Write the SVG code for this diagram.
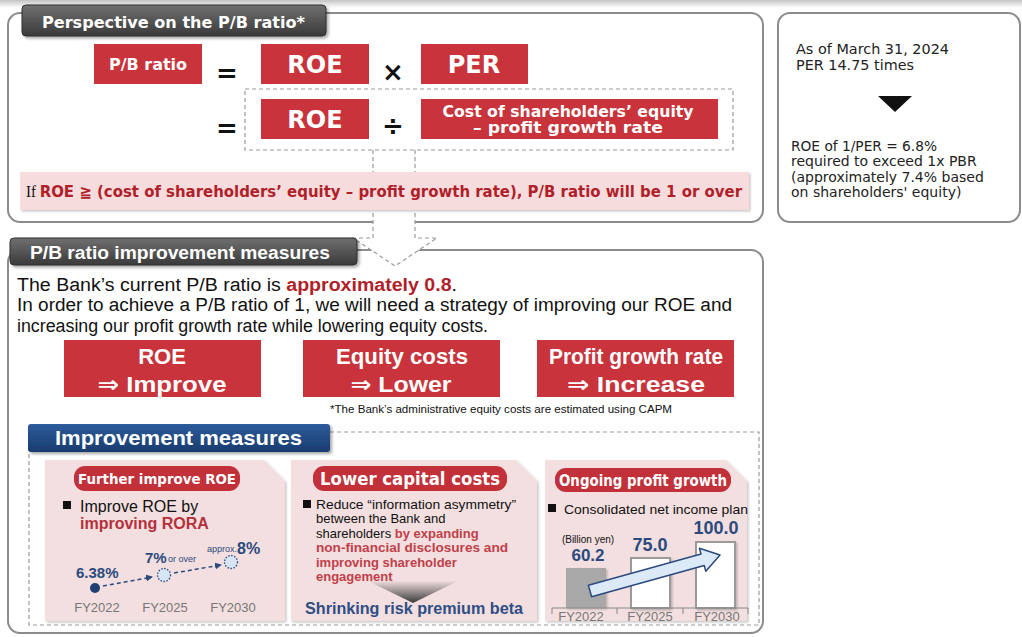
<svg xmlns="http://www.w3.org/2000/svg" width="1022" height="637" viewBox="0 0 1022 637">
<defs>
<linearGradient id="gTop" x1="0" y1="0" x2="0" y2="1"><stop offset="0" stop-color="#c4c4c4"/><stop offset="1" stop-color="#ffffff"/></linearGradient>
<linearGradient id="gTab" x1="0" y1="0" x2="0" y2="1"><stop offset="0" stop-color="#707070"/><stop offset="1" stop-color="#3a3a3a"/></linearGradient>
<linearGradient id="gBlue" x1="0" y1="0" x2="0" y2="1"><stop offset="0" stop-color="#2d5c9c"/><stop offset="1" stop-color="#183c6e"/></linearGradient>
<linearGradient id="gTri" x1="0" y1="0" x2="0" y2="1"><stop offset="0" stop-color="#efdcdc"/><stop offset="1" stop-color="#3a3a3a"/></linearGradient>
<filter id="sh" x="-5%" y="-20%" width="115%" height="150%"><feDropShadow dx="2" dy="2" stdDeviation="1.5" flood-color="#000" flood-opacity="0.35"/></filter>
<filter id="shl" x="-5%" y="-20%" width="115%" height="150%"><feDropShadow dx="1.5" dy="1.5" stdDeviation="1.2" flood-color="#000" flood-opacity="0.22"/></filter>
<marker id="ah" markerWidth="7" markerHeight="7" refX="6" refY="3.5" orient="auto" markerUnits="userSpaceOnUse"><path d="M0,0 L7,3.5 L0,7 z" fill="#2b4a7e"/></marker>
</defs>
<style>
.sec{fill:#fff;stroke:#8c8c8c;stroke-width:2}
.red{fill:#c8333c}
.tab{fill:url(#gTab);stroke:#2e2e2e;stroke-width:1}
.dash{fill:none;stroke:#9a9a9a;stroke-width:1.2;stroke-dasharray:4 3}
.wt{font-family:"DejaVu Sans",sans-serif;font-weight:bold;fill:#fff}
.op{font-family:"DejaVu Sans",sans-serif;font-weight:bold;fill:#111}
.rt{font-family:"DejaVu Sans",sans-serif;font-size:14px;fill:#222}
.ln{font-family:"Liberation Sans","DejaVu Sans",sans-serif;fill:#111}
.lb{font-family:"Liberation Sans","DejaVu Sans",sans-serif;font-weight:bold}
.panel{fill:#f3dfdf;filter:url(#shl)}
.pill{fill:#c2303a}
.blue{fill:#2b4a7e}
.fy{font-family:"Liberation Sans",sans-serif;font-size:13px;fill:#777;text-anchor:middle}
.dc{fill:#d8e5f4;stroke:#2b4a7e;stroke-width:1.3;stroke-dasharray:1.5 1.5}
</style>

<rect x="0" y="0" width="1022" height="8" fill="url(#gTop)"/>

<!-- Section boxes -->
<g id="section1-box"><rect class="sec" x="8" y="13" width="755" height="209" rx="12"/></g>
<g id="note-box">
<rect class="sec" x="778" y="13" width="242" height="209" rx="12"/>
<text class="rt" x="796" y="54" textLength="153" lengthAdjust="spacingAndGlyphs">As of March 31, 2024</text>
<text class="rt" x="796" y="70" textLength="118" lengthAdjust="spacingAndGlyphs">PER 14.75 times</text>
<polygon points="878,96 912,96 895,112" fill="#111"/>
<text class="rt" x="791" y="151" textLength="146" lengthAdjust="spacingAndGlyphs">ROE of 1/PER = 6.8%</text>
<text class="rt" x="791" y="166">required to exceed 1x PBR</text>
<text class="rt" x="791" y="182">(approximately 7.4% based</text>
<text class="rt" x="791" y="197">on shareholders' equity)</text>
</g>
<g id="section2-box"><rect class="sec" x="8" y="250" width="755" height="383" rx="12"/></g>

<!-- Connector: dashed block arrow -->
<g id="connectors">
<polygon points="373,150 415,150 415,238 437,238 395,266 353,238 373,238" fill="#fff"/>
<polyline class="dash" points="373,150 373,238 353,238 395,266 437,238 415,238 415,150"/>
</g>

<!-- Formula -->
<g id="formula">
<rect class="dash" x="245" y="89" width="488" height="61"/>
<g id="pb-box"><rect class="red" x="94" y="44" width="108" height="40"/><text class="wt" x="148" y="70" font-size="16" text-anchor="middle">P/B ratio</text></g>
<text class="op" x="227" y="82" font-size="26" text-anchor="middle">=</text>
<g id="roe-box1"><rect class="red" x="261" y="44" width="108" height="40"/><text class="wt" x="315" y="73" font-size="24" text-anchor="middle">ROE</text></g>
<text class="op" x="393" y="81" font-size="26" text-anchor="middle">×</text>
<g id="per-box"><rect class="red" x="421" y="44" width="107" height="40"/><text class="wt" x="474" y="73" font-size="24" text-anchor="middle">PER</text></g>
<text class="op" x="227" y="137" font-size="26" text-anchor="middle">=</text>
<g id="roe-box2"><rect class="red" x="261" y="99" width="108" height="40"/><text class="wt" x="315" y="128" font-size="24" text-anchor="middle">ROE</text></g>
<text class="op" x="393" y="135" font-size="26" text-anchor="middle">÷</text>
<g id="cost-box"><rect class="red" x="421" y="99" width="297" height="40"/>
<text class="wt" x="568" y="117" font-size="15" text-anchor="middle" textLength="251" lengthAdjust="spacingAndGlyphs">Cost of shareholders’ equity</text>
<text class="wt" x="568" y="133" font-size="15" text-anchor="middle" textLength="190" lengthAdjust="spacingAndGlyphs">– profit growth rate</text></g>
</g>

<g id="condition">
<rect x="20" y="172" width="729" height="38" fill="#f6dcdc" filter="url(#shl)"/>
<text x="26" y="197" font-size="16" textLength="716" lengthAdjust="spacingAndGlyphs"><tspan font-family="Liberation Serif, serif" fill="#111">If </tspan><tspan font-family="DejaVu Sans, Noto Sans CJK JP, sans-serif" font-weight="bold" fill="#b01f2a">ROE ≧ (cost of shareholders’ equity – profit growth rate), P/B ratio will be 1 or over</tspan></text>
</g>

<g id="tab1"><rect class="tab" x="22" y="5" width="304" height="31" rx="4" filter="url(#sh)"/>
<text class="wt" x="42" y="28" font-size="15" textLength="263" lengthAdjust="spacingAndGlyphs">Perspective on the P/B ratio*</text></g>

<g id="tab2"><rect class="tab" x="10" y="238" width="347" height="27" rx="4" filter="url(#sh)"/>
<text class="lb" x="30" y="259" font-size="18" fill="#fff" textLength="300" lengthAdjust="spacingAndGlyphs">P/B ratio improvement measures</text></g>

<g id="intro">
<text class="ln" x="17" y="291" font-size="18" textLength="440" lengthAdjust="spacingAndGlyphs">The Bank’s current P/B ratio is <tspan font-weight="bold" fill="#b01f2a">approximately 0.8</tspan>.</text>
<text class="ln" x="17" y="311" font-size="18" textLength="715" lengthAdjust="spacingAndGlyphs">In order to achieve a P/B ratio of 1, we will need a strategy of improving our ROE and</text>
<text class="ln" x="17" y="332" font-size="18" textLength="471" lengthAdjust="spacingAndGlyphs">increasing our profit growth rate while lowering equity costs.</text>
</g>

<g id="measure-roe"><rect class="red" x="64" y="340" width="197" height="57"/>
<text class="lb" x="162" y="364" font-size="22" fill="#fff" text-anchor="middle">ROE</text>
<text class="lb" x="162" y="392" font-size="22" fill="#fff" text-anchor="middle" textLength="129" lengthAdjust="spacingAndGlyphs">⇒ Improve</text></g>
<g id="measure-equity"><rect class="red" x="303" y="340" width="197" height="57"/>
<text class="lb" x="402" y="364" font-size="22" fill="#fff" text-anchor="middle" textLength="132" lengthAdjust="spacingAndGlyphs">Equity costs</text>
<text class="lb" x="401" y="392" font-size="22" fill="#fff" text-anchor="middle" textLength="101" lengthAdjust="spacingAndGlyphs">⇒ Lower</text></g>
<g id="measure-growth"><rect class="red" x="537" y="340" width="197" height="57"/>
<text class="lb" x="636" y="364" font-size="22" fill="#fff" text-anchor="middle" textLength="174" lengthAdjust="spacingAndGlyphs">Profit growth rate</text>
<text class="lb" x="636" y="392" font-size="22" fill="#fff" text-anchor="middle" textLength="138" lengthAdjust="spacingAndGlyphs">⇒ Increase</text></g>

<text class="ln" x="330" y="413" font-size="10" fill="#555" textLength="342" lengthAdjust="spacingAndGlyphs">*The Bank’s administrative equity costs are estimated using CAPM</text>

<!-- Improvement measures -->
<rect class="dash" x="29" y="432" width="730" height="193"/>
<g id="tab3"><rect x="28" y="424" width="302" height="28" rx="3" fill="url(#gBlue)" filter="url(#sh)"/>
<text class="lb" x="55" y="445" font-size="21" fill="#fff" textLength="247" lengthAdjust="spacingAndGlyphs">Improvement measures</text></g>

<g id="panel-roe">
<path class="panel" d="M45,460 H264 L285,481 V621 H45 Z"/>
<rect class="pill" x="74" y="466" width="166" height="25" rx="11"/>
<text class="wt" x="157" y="484" font-size="14.5" text-anchor="middle" textLength="158" lengthAdjust="spacingAndGlyphs">Further improve ROE</text>
<rect x="63" y="501" width="8" height="8" fill="#111"/>
<text class="ln" x="80" y="512" font-size="16">Improve ROE by</text>
<text class="lb" x="80" y="529" font-size="16" fill="#b5303c">improving RORA</text>
<text class="lb blue" x="76" y="578" font-size="15">6.38%</text>
<text class="lb blue" x="145" y="563" font-size="15">7%</text>
<text class="ln blue" x="168" y="562" font-size="9">or over</text>
<text class="ln blue" x="207" y="552" font-size="9">approx.</text>
<text class="lb blue" x="237" y="554" font-size="16">8%</text>
<circle cx="95" cy="588" r="5" fill="#1f3f73"/>
<line x1="103" y1="586" x2="152" y2="577" stroke="#2b4a7e" stroke-width="1.5" stroke-dasharray="4 3" marker-end="url(#ah)"/>
<circle class="dc" cx="164" cy="575" r="6.5"/>
<line x1="174" y1="573" x2="221" y2="565" stroke="#2b4a7e" stroke-width="1.5" stroke-dasharray="4 3" marker-end="url(#ah)"/>
<circle class="dc" cx="231" cy="562" r="6.5"/>
<text class="fy" x="97" y="612">FY2022</text>
<text class="fy" x="165" y="612">FY2025</text>
<text class="fy" x="233" y="612">FY2030</text>
</g>

<g id="panel-capital">
<path class="panel" d="M291,460 H516 L537,481 V621 H291 Z"/>
<rect class="pill" x="313" y="466" width="194" height="25" rx="11"/>
<text class="wt" x="410" y="485" font-size="17" text-anchor="middle" textLength="180" lengthAdjust="spacingAndGlyphs">Lower capital costs</text>
<rect x="303" y="500" width="8" height="8" fill="#111"/>
<g font-family="Liberation Sans, DejaVu Sans, sans-serif" font-size="13">
<text x="316" y="509" fill="#111" textLength="200" lengthAdjust="spacingAndGlyphs">Reduce “information asymmetry”</text>
<text x="316" y="523" fill="#111">between the Bank and</text>
<text x="316" y="538" fill="#111">shareholders <tspan font-weight="bold" fill="#c0404a">by expanding</tspan></text>
<text x="316" y="552" font-weight="bold" fill="#c0404a" textLength="192" lengthAdjust="spacingAndGlyphs">non-financial disclosures and</text>
<text x="316" y="567" font-weight="bold" fill="#c0404a">improving shareholder</text>
<text x="316" y="581" font-weight="bold" fill="#c0404a">engagement</text>
</g>
<polygon points="368,581 458,581 413,603" fill="url(#gTri)"/>
<text class="lb" x="414" y="614" font-size="16" fill="#2e4e85" text-anchor="middle" textLength="218" lengthAdjust="spacingAndGlyphs">Shrinking risk premium beta</text>
</g>

<g id="panel-profit">
<path class="panel" d="M545,460 H726 L747,481 V621 H545 Z"/>
<rect class="pill" x="555" y="468" width="176" height="24" rx="11"/>
<text class="wt" x="643" y="486" font-size="15" text-anchor="middle" textLength="168" lengthAdjust="spacingAndGlyphs">Ongoing profit growth</text>
<rect x="548" y="504" width="8" height="8" fill="#111"/>
<text class="ln" x="564" y="514" font-size="13.5" textLength="184" lengthAdjust="spacingAndGlyphs">Consolidated net income plan</text>
<text class="ln" x="588" y="543" font-size="10" fill="#555" text-anchor="middle">(Billion yen)</text>
<text class="lb blue" x="588" y="561" font-size="17" text-anchor="middle">60.2</text>
<text class="lb blue" x="650" y="551" font-size="18" text-anchor="middle">75.0</text>
<text class="lb blue" x="716" y="534" font-size="18" text-anchor="middle">100.0</text>
<rect x="566" y="568" width="40" height="40" fill="#a8a8a8" filter="url(#shl)"/>
<rect x="631" y="558" width="39" height="50" fill="#fff" stroke="#9a9a9a" stroke-width="2" filter="url(#shl)"/>
<rect x="696" y="542" width="39" height="66" fill="#fff" stroke="#9a9a9a" stroke-width="2" filter="url(#shl)"/>
<polygon points="588.4,585.2 701,554 699.4,548.2 720,555 705.8,571.3 704.2,565.5 591.6,596.8" fill="#dce9f7" stroke="#2b4a7e" stroke-width="1.5" stroke-linejoin="round"/>
<path d="M552,608 H748 M552,608 V614 M617,608 V614 M683,608 V614 M748,608 V614" stroke="#888" stroke-width="1" fill="none"/>
<text class="fy" x="581" y="621">FY2022</text>
<text class="fy" x="650" y="621">FY2025</text>
<text class="fy" x="717" y="621">FY2030</text>
</g>
</svg>
